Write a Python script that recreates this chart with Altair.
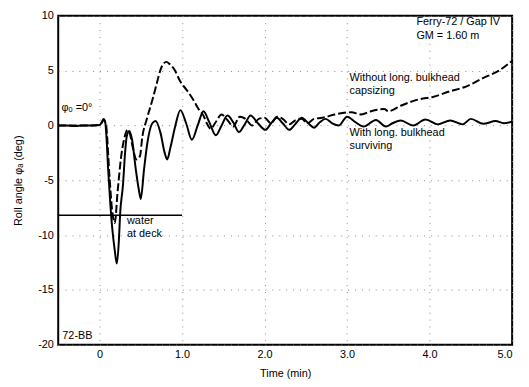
import altair as alt
import pandas as pd

# Solid: with longitudinal bulkhead (surviving)
solid_x = [-0.5, -0.4, -0.3, -0.2, -0.1, 0.0, 0.03, 0.05, 0.07, 0.085, 0.105, 0.13, 0.155, 0.185,
           0.21, 0.235, 0.25, 0.285, 0.31, 0.33, 0.36, 0.395, 0.44, 0.48, 0.50, 0.54, 0.58, 0.64,
           0.68, 0.74, 0.79, 0.82, 0.86, 0.92, 0.98, 1.05, 1.12, 1.19, 1.26, 1.33, 1.41, 1.48,
           1.55, 1.62, 1.69, 1.76, 1.83, 1.92, 2.01, 2.08, 2.15, 2.22, 2.30, 2.37, 2.45, 2.53,
           2.60, 2.67, 2.74, 2.82, 2.90, 3.0, 3.1, 3.2, 3.35, 3.47, 3.55, 3.65, 3.8, 3.95, 4.1,
           4.25, 4.4, 4.5, 4.65, 4.8, 4.9, 5.0]
solid_y = [0.0, 0.0, -0.05, 0.0, 0.0, 0.05, 0.3, 0.6, 0.3, -1.1, -4.0, -7.0, -9.4, -11.4,
           -12.6, -10.5, -8.1, -5.4, -2.5, -1.0, -0.5, -1.3, -4.0, -6.0, -6.7, -4.0, -1.6, 0.2,
           0.4, -0.7, -2.5, -3.1, -2.0, 0.0, 1.4, 0.2, -1.3, 0.0, 1.3, 0.3, -0.9, 0.0,
           0.9, 0.3, -0.6, 0.1, 0.9, 0.2, -0.4, 0.2, 0.7, 0.2, -0.4, 0.1, 0.7, 0.2,
           -0.2, 0.3, 0.6, 0.2, 0.0, 0.8, 0.3, -0.1, 0.5, -0.1, 0.2, 0.45, 0.0, 0.55, 0.1,
           0.45, 0.1, 0.6, 0.15, 0.4, 0.2, 0.35]

# Dashed: without longitudinal bulkhead (capsizing)
dash_x = [-0.5, -0.3, -0.1, 0.0, 0.03, 0.05, 0.08, 0.12, 0.15, 0.185, 0.22, 0.26, 0.30, 0.34,
          0.37, 0.40, 0.45, 0.49, 0.52, 0.57, 0.64, 0.70, 0.74, 0.81, 0.85, 0.90, 0.98, 1.06,
          1.14, 1.20, 1.26, 1.30, 1.35, 1.40, 1.48, 1.55, 1.62, 1.70, 1.77, 1.85, 1.93, 2.0,
          2.08, 2.15, 2.22, 2.30, 2.38, 2.45, 2.52, 2.60, 2.70, 2.85, 3.05, 3.17, 3.29, 3.45,
          3.5, 3.65, 3.88, 4.04, 4.24, 4.44, 4.64, 4.84, 5.0]
dash_y = [0.0, 0.0, 0.0, 0.05, 0.3, 0.5, 0.0, -4.5, -7.5, -8.9, -6.0, -3.0, -1.2, -0.4,
          -0.8, -1.9, -3.1, -2.8, -1.0, 0.5, 2.3, 4.0, 5.1, 5.8, 5.6, 5.2, 4.0, 3.2,
          2.3, 1.5, 0.9, 0.2, -0.3, 0.2, 1.0, 0.5, -0.1, 0.8, 0.6, 0.0, 0.6, 0.7,
          0.2, 0.8, 0.6, 0.1, 0.5, 0.6, 0.2, 0.6, 0.7, 1.0, 1.2, 1.0, 1.3, 1.5,
          1.3, 1.8, 2.4, 2.6, 3.1, 3.55, 4.3, 5.0, 5.9]

# "water at deck" level
water_x = [-0.5, 1.0]
water_y = [-8.2, -8.2]

# annotations
ann_text = ["Ferry-72 / Gap IV", "GM = 1.60 m", "Without long. bulkhead", "capsizing",
            "With long. bulkhead", "surviving", "water", "at deck", "φₒ =0°", "72-BB"]
ann_x = [3.84, 3.84, 3.03, 3.03, 3.03, 3.03, 0.334, 0.334, -0.46, -0.45]
ann_y = [9.4, 8.15, 4.3, 3.15, -0.65, -1.85, -8.73, -9.95, 1.6, -19.2]

x_ticks = [0, 1, 2, 3, 4, 5]
y_ticks = [-20, -15, -10, -5, 0, 5, 10]

FONT = "Liberation Sans"

solid_df = pd.DataFrame({"t": solid_x, "roll": solid_y})
dash_df = pd.DataFrame({"t": dash_x, "roll": dash_y})
water_df = pd.DataFrame({"t": water_x, "roll": water_y})
ann_df = pd.DataFrame({"t": ann_x, "roll": ann_y, "label": ann_text})

xscale = alt.Scale(domain=[-0.5, 5.0], nice=False, zero=False)
yscale = alt.Scale(domain=[-20, 10], nice=False, zero=False)

xaxis = alt.Axis(values=x_ticks, title="Time (min)",
                 labelExpr="datum.value == 0 ? '0' : format(datum.value, '.1f')",
                 ticks=False, domain=False, grid=True, labelPadding=4, titlePadding=8)
yaxis = alt.Axis(values=y_ticks, title="Roll angle φₐ (deg)",
                 labelExpr="'' + datum.value", ticks=False, domain=False, grid=True,
                 labelPadding=5, titlePadding=14)

x_enc = alt.X("t:Q", scale=xscale, axis=xaxis)
y_enc = alt.Y("roll:Q", scale=yscale, axis=yaxis)

solid = alt.Chart(solid_df).mark_line(color="black", strokeWidth=2, interpolate="monotone").encode(
    x=x_enc, y=y_enc)
dashed = alt.Chart(dash_df).mark_line(color="black", strokeWidth=2, strokeDash=[8, 3],
                                      interpolate="monotone").encode(
    x=alt.X("t:Q", scale=xscale), y=alt.Y("roll:Q", scale=yscale))
water = alt.Chart(water_df).mark_line(color="black", strokeWidth=1.5).encode(
    x=alt.X("t:Q", scale=xscale), y=alt.Y("roll:Q", scale=yscale))
texts = alt.Chart(ann_df).mark_text(align="left", baseline="middle", fontSize=11,
                                    font=FONT, color="black").encode(
    x=alt.X("t:Q", scale=xscale), y=alt.Y("roll:Q", scale=yscale), text="label:N")

chart = alt.layer(solid, dashed, water, texts).properties(
    width=461, height=334,
    autosize=alt.AutoSizeParams(type="none"),
    padding={"left": 51, "top": 5, "right": 9, "bottom": 40},
).configure_view(stroke="black", strokeWidth=2).configure_axis(
    labelFont=FONT, titleFont=FONT, labelFontSize=11, titleFontSize=11,
    labelColor="black", titleColor="black", titleFontWeight="normal",
    gridColor="#888888", gridDash=[1, 6], gridWidth=1,
)

chart.save("out.html", embed_options={"renderer": "svg", "actions": False})
